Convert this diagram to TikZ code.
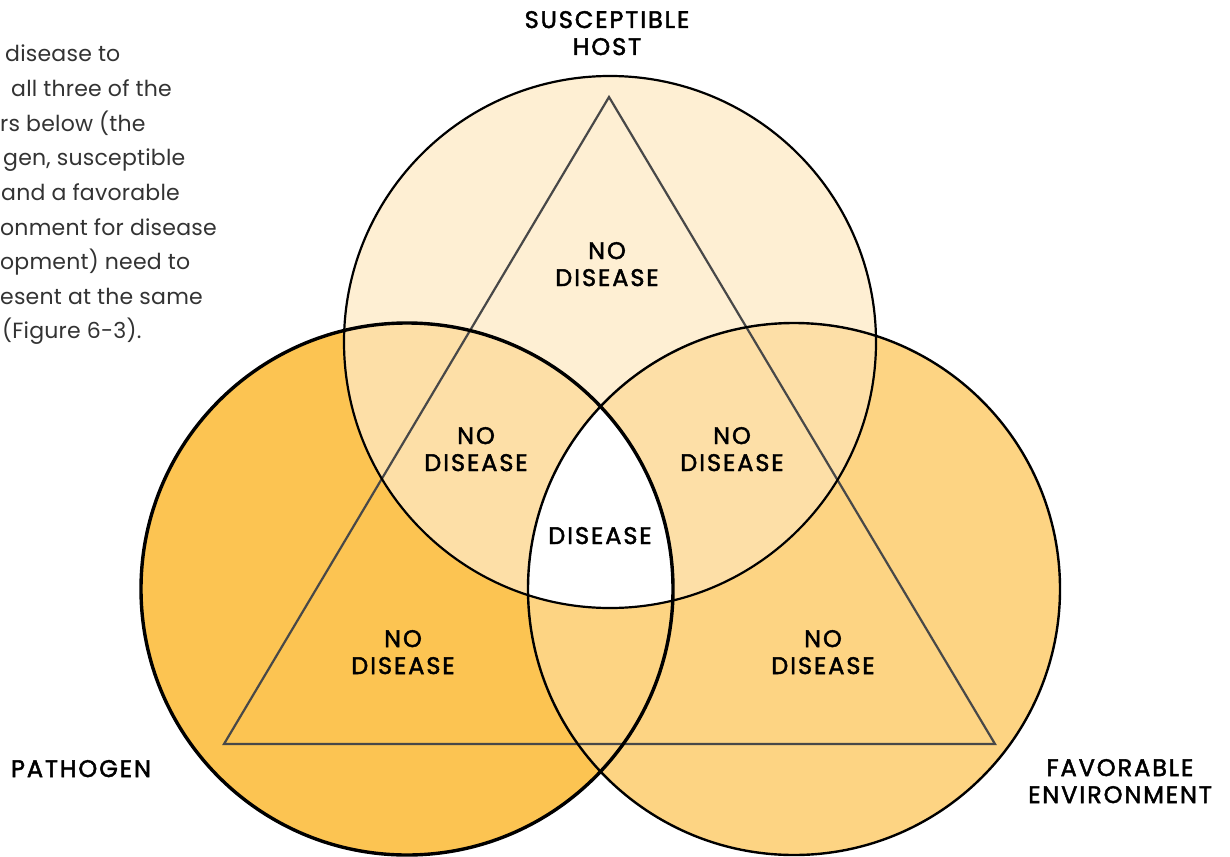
\documentclass[tikz,border=0pt]{standalone}
\usepackage{fontspec}
\setmainfont{Poppins}
\newfontfamily\lblfont{Poppins}[FakeBold=2, LetterSpace=8]
\newfontfamily\bodyfont{Poppins}[LetterSpace=1]
\definecolor{pcol}{HTML}{FCC452}
\definecolor{ecol}{HTML}{FDD483}
\definecolor{hcol}{HTML}{FEEFD3}
\definecolor{xcol}{HTML}{FDDFA7}
\definecolor{tricol}{HTML}{484848}
\definecolor{bodycol}{HTML}{333333}
\begin{document}
\begin{tikzpicture}[x=1pt,y=-1pt,
  lbl/.style={inner sep=0pt, text=black, font=\lblfont\fontsize{24}{27}\selectfont, align=center, anchor=base},
  body/.style={inner sep=0pt, text=bodycol, font=\bodyfont\fontsize{22}{24}\selectfont, anchor=base west}]
\useasboundingbox (0,0) rectangle (1230,856);
\clip (0,0) rectangle (1230,856);
\fill[white] (0,0) rectangle (1230,856);
\coordinate (hc) at (610,342);
\coordinate (pc) at (407,589);
\coordinate (ec) at (794,589);
% fills
\fill[pcol] (pc) circle[radius=266pt];
\fill[ecol] (ec) circle[radius=266pt];
\fill[hcol] (hc) circle[radius=266pt];
\begin{scope}
  \clip (hc) circle[radius=266pt];
  \fill[xcol] (pc) circle[radius=266pt];
  \fill[xcol] (ec) circle[radius=266pt];
  \clip (pc) circle[radius=266pt];
  \fill[white] (ec) circle[radius=266pt];
\end{scope}
% triangle
\coordinate (ta) at (609,97);
\coordinate (tl) at (224,744);
\coordinate (tr) at (995,744);
\draw[tricol, line width=2.2pt, line join=miter] (ta) -- (tl) -- (tr) -- cycle;
% outlines
\draw[black, line width=2.2pt] (hc) circle[radius=266pt];
\draw[black, line width=2.4pt] (ec) circle[radius=266pt];
\draw[black, line width=3.4pt] (pc) circle[radius=266pt];
% labels (anchor = baseline of last line)
\node[lbl] (host) at (607,55) {SUSCEPTIBLE\\HOST};
\node[lbl] (nd1) at (607,286) {NO\\DISEASE};
\node[lbl] (nd2) at (476,471) {NO\\DISEASE};
\node[lbl] (nd3) at (732,471) {NO\\DISEASE};
\node[lbl] (dis) at (600,544) {DISEASE};
\node[lbl] (nd4) at (403,674) {NO\\DISEASE};
\node[lbl] (nd5) at (823,674) {NO\\DISEASE};
\node[lbl] (path) at (81,777) {PATHOGEN};
\node[lbl] (env) at (1120,803) {FAVORABLE\\ENVIRONMENT};
% body text fragments
\node[body] (b1) at (5,62) {disease to};
\node[body] (b2) at (11,96.6) {all three of the};
\node[body] (b3) at (0,131.2) {rs below (the};
\node[body] (b4) at (3,165.8) {gen, susceptible};
\node[body] (b5) at (1,200.4) {and a favorable};
\node[body] (b6) at (0,235) {onment for disease};
\node[body] (b7) at (0,269.6) {opment) need to};
\node[body] (b8) at (0,304.2) {esent at the same};
\node[body] (b9) at (2,338.8) {(Figure 6-3).};
\end{tikzpicture}
\end{document}
